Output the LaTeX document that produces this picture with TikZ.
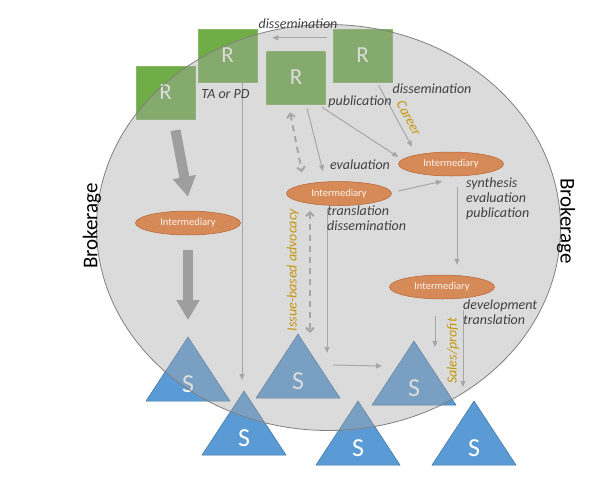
\documentclass[tikz,border=0pt]{standalone}
\usepackage{fontspec}
\setmainfont{Carlito}
\usetikzlibrary{positioning,shapes.geometric,arrows.meta}

\definecolor{rgreen}{RGB}{112,173,71}
\definecolor{sblue}{RGB}{91,155,213}
\definecolor{sedge}{RGB}{65,113,156}
\definecolor{iorange}{RGB}{214,138,88}
\definecolor{iedge}{RGB}{180,100,50}
\definecolor{arrowgray}{RGB}{166,166,166}
\definecolor{lbltext}{RGB}{64,64,64}
\definecolor{goldtext}{RGB}{196,150,10}

\begin{document}
\begin{tikzpicture}[x=1pt,y=-1pt,
  rbox/.style={draw=rgreen!85!white,line width=0.5pt,fill=rgreen,minimum width=59pt,minimum height=53pt,text=white,font=\fontsize{23}{23}\selectfont},
  slbl/.style={text=white,font=\fontsize{26}{26}\selectfont,inner sep=0pt},
  interm/.style={ellipse,draw=iedge,line width=0.5pt,fill=iorange,minimum width=105pt,minimum height=24pt,inner sep=0pt,text=white!90!iorange,font=\fontsize{10.5}{11}\selectfont},
  lbl/.style={text=lbltext,font=\fontsize{14}{15}\selectfont\itshape,inner sep=1pt,align=left},
  goldlbl/.style={text=goldtext,font=\fontsize{14}{15}\selectfont\itshape,inner sep=1pt},
  brok/.style={text=black,font=\fontsize{21}{21}\selectfont,inner sep=0pt},
  conn/.style={draw=arrowgray,line width=1pt,-{Triangle[length=6pt,width=5pt]}},
  dconn/.style={draw=arrowgray,line width=2pt,dash pattern=on 6pt off 5pt,{Straight Barb[length=4pt,width=8pt]}-{Straight Barb[length=4pt,width=8pt]}},
  bigarrow/.style={draw=arrowgray!95!black,line width=10pt,-{Triangle[length=20pt,width=22pt]}}]
\useasboundingbox (0,0) rectangle (597,491);

% researchers
\node[rbox] (r1) at (165.5,92.5) {R};
\node[rbox] (r2) at (227.5,55.5) {R};
\node[rbox] (r3) at (296,77.5) {R};
\node[rbox] (r4) at (362.5,55.5) {R};

% stakeholders
\foreach \n/\x/\y in {1/188/337,2/244/391,3/298/334,4/414/341,5/358/401,6/474/401}{
  \filldraw[fill=sblue,draw=sedge,line width=0.5pt] (\x,\y) -- ++(42,64) -- ++(-84,0) -- cycle;
  \coordinate (t\n) at (\x,\y);
  \node[slbl] (s\n) at (\x,\y+47) {S};
}

% brokerage field
\node[ellipse,minimum width=464pt,minimum height=406pt,fill=gray!70,fill opacity=0.4,draw=gray,draw opacity=1,line width=0.8pt] (field) at (328.5,227.5) {};

\node[brok,rotate=90] (bl) at (92,226) {Brokerage};
\node[brok,rotate=-90] (br) at (566,221) {Brokerage};

% intermediaries
\node[interm] (i1) at (188,223) {Intermediary};
\node[interm] (i2) at (339,193.5) {Intermediary};
\node[interm] (i3) at (451,164) {Intermediary};
\node[interm] (i4) at (442,287) {Intermediary};

% flows
\draw[conn] ([xshift=-6pt,yshift=-9pt]r4.north west) -- ([xshift=15pt,yshift=-9pt]r2.north east);
\draw[conn] ([xshift=14.5pt]r2.south) -- ([xshift=-2pt,yshift=11pt]t2);
\draw[bigarrow] ([xshift=10pt,yshift=-11pt]r1.south) -- ([yshift=14pt]i1.north);
\draw[bigarrow] ([yshift=-15pt]i1.south) -- ([yshift=17pt]t1);
\draw[dconn] ([xshift=-6pt,yshift=-8pt]r3.south) -- ([xshift=-37pt,yshift=9pt]i2.north);
\draw[dconn] ([xshift=-29pt,yshift=-5pt]i2.south) -- ([xshift=12pt,yshift=1pt]t3);
\draw[conn] ([xshift=11pt,yshift=-4pt]r3.south) -- ([xshift=-16pt,yshift=10pt]i2.north);
\draw[conn] ([xshift=26pt,yshift=-3pt]r3.south) -- ([yshift=7pt]i3.west);
\draw[conn] ([xshift=16pt,yshift=-3pt]r4.south) -- ([xshift=-39pt,yshift=5pt]i3.north);
\draw[conn] ([xshift=6.5pt,yshift=2.5pt]i2.east) -- ([xshift=-9pt,yshift=-5pt]i3.south);
\draw[conn] ([xshift=6pt,yshift=-11pt]i3.south) -- ([xshift=15pt,yshift=10pt]i4.north);
\draw[conn] ([xshift=-12pt,yshift=-3pt]i2.south) -- ([xshift=29pt,yshift=-19pt]t3);
\draw[conn] ([xshift=35pt,yshift=-31pt]t3) -- ([xshift=-32pt,yshift=-25pt]t4);
\draw[conn] ([xshift=-7pt,yshift=-17pt]i4.south) -- ([xshift=21pt,yshift=-6pt]t4);
\draw[conn] ([xshift=21pt,yshift=-11pt]i4.south) -- ([xshift=-11pt,yshift=14pt]t6);

% labels
\node[lbl] (ltop) at (298,24) {dissemination};
\node[lbl] (lta) at (225.5,94) {TA or PD};
\node[lbl] (lpub) at (360,102) {publication};
\node[lbl] (ldis) at (432,89) {dissemination};
\node[lbl] (leval) at (360,165) {evaluation};
\node[lbl,anchor=north west] (lsyn) at (465,177) {synthesis\\evaluation\\publication};
\node[lbl,anchor=north west] (ltrans) at (326,205) {translation\\dissemination};
\node[lbl,anchor=north west] (ldev) at (462,299) {development\\translation};
\node[goldlbl,rotate=-62] (lcar) at (409,118) {Career};
\node[goldlbl,rotate=90] (liss) at (293,270) {Issue-based advocacy};
\node[goldlbl,rotate=90] (lsal) at (453,351) {Sales/profit};
\end{tikzpicture}
\end{document}
